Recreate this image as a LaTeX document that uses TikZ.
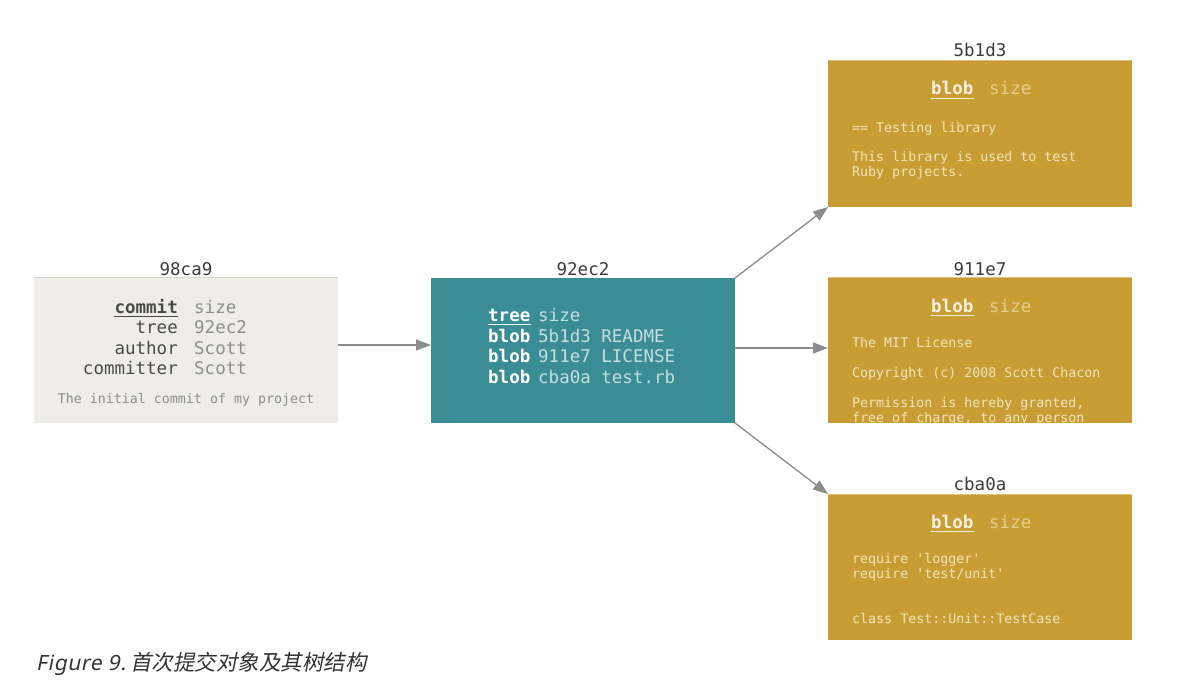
\documentclass[tikz,border=0pt]{standalone}
\usepackage{fontspec}
\setmainfont{DejaVu Sans}
\newfontfamily\mono{DejaVu Sans Mono}
\newfontfamily\capfont[FakeSlant=0.2,LetterSpace=3]{Noto Sans}
\newfontfamily\cjk[FakeSlant=0.2]{Noto Sans CJK SC}
\usetikzlibrary{arrows.meta}
\definecolor{cgray}{HTML}{EEEDE9}
\definecolor{cline}{HTML}{D6D4CE}
\definecolor{tealbox}{HTML}{3A8D95}
\definecolor{goldbox}{HTML}{C89E34}
\definecolor{goldline}{HTML}{DCC27E}
\definecolor{arrowgray}{HTML}{8C8C8C}
\definecolor{labgray}{HTML}{3C3C3C}
\definecolor{ckeyc}{HTML}{4A4A4A}
\definecolor{cvalc}{HTML}{8E8E8E}
\definecolor{tvalc}{HTML}{C6DEE0}
\definecolor{gkeyc}{HTML}{F6F0DE}
\definecolor{gvalc}{HTML}{E4CF91}
\definecolor{gtxtc}{HTML}{F2E5BE}
\definecolor{capc}{HTML}{333333}
\tikzset{
  objbox/.style={draw=none, minimum width=304pt, inner sep=0pt, outer sep=0pt},
  lab/.style={font=\mono\fontsize{17.5}{20}\selectfont, text=labgray, anchor=base, inner sep=0pt},
  big/.style={font=\mono\fontsize{17.5}{20}\selectfont, inner sep=0pt},
  small/.style={font=\mono\fontsize{13.3}{16}\selectfont, inner sep=0pt, anchor=base west, text=gtxtc},
  ckey/.style={big, anchor=base east, text=ckeyc},
  cval/.style={big, anchor=base west, text=cvalc},
  tkey/.style={big, anchor=base west, text=white, font=\mono\bfseries\fontsize{17.5}{20}\selectfont},
  tval/.style={big, anchor=base west, text=tvalc},
  gkey/.style={big, anchor=base west, text=gkeyc, font=\mono\bfseries\fontsize{17.5}{20}\selectfont},
  gval/.style={big, anchor=base west, text=gvalc},
  conn/.style={draw=arrowgray, line width=1.3pt, -{Triangle[length=15pt,width=11pt]}},
  uline/.style={line width=1.6pt}
}
\begin{document}
\begin{tikzpicture}[x=1pt,y=-1pt]
\useasboundingbox[fill=white] (0,0) rectangle (1188,690);

% boxes
\node[objbox, fill=cgray, minimum height=146pt] (commit) at (186,350) {};
\node[objbox, fill=tealbox, minimum height=145pt] (tree) at (583,350.5) {};
\node[objbox, fill=goldbox, minimum height=146pt] (b1) at (980,134) {};
\node[objbox, fill=goldbox, minimum height=146pt] (b2) at (980,350) {};
\node[objbox, fill=goldbox, minimum height=146pt] (b3) at (980,567) {};
\draw[cline, line width=1pt] (commit.north west) -- (commit.north east);
\draw[goldline, line width=1pt] (b1.north west) -- (b1.north east);
\draw[goldline, line width=1pt] (b2.north west) -- (b2.north east);
\draw[goldline, line width=1pt] (b3.north west) -- (b3.north east);

% labels
\node[lab] (lc) at (186,275) {98ca9};
\node[lab] (lt) at (583,275) {92ec2};
\node[lab] (l1) at (980,57) {5b1d3};
\node[lab] (l2) at (980,275) {911e7};
\node[lab] (l3) at (980,490) {cba0a};

% commit content
\node[ckey, font=\mono\bfseries\fontsize{17.5}{20}\selectfont] (ck1) at (178,313) {commit};
\draw[uline, ckeyc] ([yshift=-3.5pt]ck1.base west) -- ([yshift=-3.5pt]ck1.base east);
\node[cval] (cv1) at (194,313) {size};
\node[ckey] (ck2) at (178,333.5) {tree};
\node[cval] (cv2) at (194,333.5) {92ec2};
\node[ckey] (ck3) at (178,354) {author};
\node[cval] (cv3) at (194,354) {Scott};
\node[ckey] (ck4) at (178,374.5) {committer};
\node[cval] (cv4) at (194,374.5) {Scott};
\node[small, anchor=base, text=cvalc] (cmsg) at (186,403) {The initial commit of my project};

% tree content
\node[tkey] (tk1) at (488,321) {tree};
\draw[uline, white] ([yshift=-3.5pt]tk1.base west) -- ([yshift=-3.5pt]tk1.base east);
\node[tval] (tv1) at (538,321) {size};
\node[tkey] (tk2) at (488,342) {blob};
\node[tval] (tv2) at (538,342) {5b1d3 README};
\node[tkey] (tk3) at (488,362.5) {blob};
\node[tval] (tv3) at (538,362.5) {911e7 LICENSE};
\node[tkey] (tk4) at (488,383) {blob};
\node[tval] (tv4) at (538,383) {cba0a test.rb};

% blob 1
\node[gkey] (g1k) at (931,95) {blob};
\draw[uline, gkeyc] ([yshift=-3.5pt]g1k.base west) -- ([yshift=-3.5pt]g1k.base east);
\node[gval] (g1v) at (989,95) {size};
\node[small] (g1a) at (852,132) {== Testing library};
\node[small] (g1b) at (852,161.5) {This library is used to test};
\node[small] (g1c) at (852,176) {Ruby projects.};

% blob 2
\node[gkey] (g2k) at (931,312) {blob};
\draw[uline, gkeyc] ([yshift=-3.5pt]g2k.base west) -- ([yshift=-3.5pt]g2k.base east);
\node[gval] (g2v) at (989,312) {size};
\node[small] (g2a) at (852,347) {The MIT License};
\node[small] (g2b) at (852,377) {Copyright (c) 2008 Scott Chacon};
\begin{scope}
\clip (b2.north west) rectangle (b2.south east);
\node[small] (g2c) at (852,407) {Permission is hereby granted,};
\node[small] (g2d) at (852,422) {free of charge, to any person};
\end{scope}

% blob 3
\node[gkey] (g3k) at (931,528) {blob};
\draw[uline, gkeyc] ([yshift=-3.5pt]g3k.base west) -- ([yshift=-3.5pt]g3k.base east);
\node[gval] (g3v) at (989,528) {size};
\node[small] (g3a) at (852,563) {require 'logger'};
\node[small] (g3b) at (852,578.5) {require 'test/unit'};
\node[small] (g3c) at (852,623) {class Test::Unit::TestCase};

% connectors
\draw[conn] ([yshift=5pt]commit.east) -- ([yshift=5.5pt]tree.west);
\draw[conn] (tree.north east) -- (b1.south west);
\draw[conn] ([yshift=2.5pt]tree.east) -- ([yshift=2pt]b2.west);
\draw[conn] (tree.south east) -- (b3.north west);

% caption
\node[anchor=base west, inner sep=0pt, text=capc] (cap) at (36,670)
  {\capfont\fontsize{21}{24}\selectfont Figure 9.\hspace{4pt}\cjk\fontsize{21.5}{24}\selectfont 首次提交对象及其树结构};
\end{tikzpicture}
\end{document}
